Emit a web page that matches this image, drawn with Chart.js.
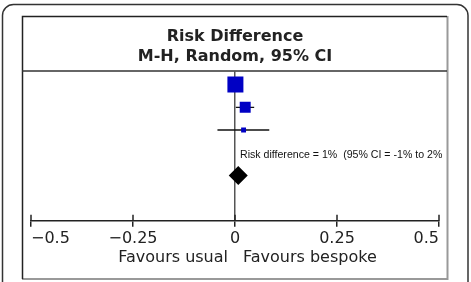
<!DOCTYPE html>
<html>
<head>
<meta charset="utf-8">
<script src="https://cdn.jsdelivr.net/npm/chart.js@4"></script>
<style>
  html, body { margin: 0; padding: 0; background: #fff; }
</style>
</head>
<body>
<canvas id="forest" width="471" height="282"></canvas>
<script>
// study rows (top to bottom), estimates and 95% CIs
const studyRows = [1, 2, 3];
const studyEst = [0.001, 0.025, 0.021];
const studyLow = [-0.008, 0.002, -0.043];
const studyHigh = [0.010, 0.047, 0.084];
const studyWeight = [64, 30, 6]; // % weight -> square area

// pooled estimate
const pooledRow = 5;
const pooledEst = 0.008;
const summaryRow = 4.1;
const summaryText = 'Risk difference = 1%  (95% CI = -1% to 2%';

const xTicks = [-0.5, -0.25, 0, 0.25, 0.5];
const titleLines = ['Risk Difference', 'M-H, Random, 95% CI'];
const sideLabels = ['Favours usual', 'Favours bespoke'];

const frame = {
    id: 'frame',
    beforeDraw(chart) {
        const c = chart.ctx;
        const top = chart.chartArea.top;
        c.save();
        // outer rounded box
        c.strokeStyle = '#333';
        c.lineWidth = 1.5;
        c.beginPath();
        c.roundRect(2.5, 4.5, 465.5, 300, 11);
        c.stroke();
        // inner box
        c.strokeStyle = '#999';
        c.lineWidth = 2;
        c.beginPath();
        c.moveTo(447.5, 16);
        c.lineTo(447.5, 279);
        c.lineTo(22, 279);
        c.stroke();
        c.strokeStyle = '#222';
        c.lineWidth = 1.5;
        c.beginPath();
        c.moveTo(22.5, 279);
        c.lineTo(22.5, 16.5);
        c.lineTo(447, 16.5);
        c.stroke();
        // line under the heading
        c.strokeStyle = '#333';
        c.beginPath();
        c.moveTo(22, top);
        c.lineTo(447, top);
        c.stroke();
        c.restore();
    },
    afterDatasetsDraw(chart) {
        const c = chart.ctx;
        const xs = chart.scales.x;
        const ys = chart.scales.y;
        const bottom = chart.chartArea.bottom;
        const zero = xs.getPixelForValue(0);
        c.save();
        // upper half of the axis ticks
        c.strokeStyle = '#222';
        c.lineWidth = 1.5;
        xs.ticks.forEach((t, i) => {
            const px = xs.getPixelForTick(i);
            c.beginPath();
            c.moveTo(px, bottom - 6);
            c.lineTo(px, bottom);
            c.stroke();
        });
        c.fillStyle = '#111';
        c.font = '10.6px "Liberation Sans", Arial, sans-serif';
        c.textBaseline = 'middle';
        c.textAlign = 'left';
        c.fillText(summaryText, zero + 5, ys.getPixelForValue(summaryRow));
        // favours labels either side of zero
        c.fillStyle = '#222';
        c.font = '16px "DejaVu Sans"';
        c.textAlign = 'right';
        c.fillText(sideLabels[0], zero - 7, bottom + 37);
        c.textAlign = 'left';
        c.fillText(sideLabels[1], zero + 8, bottom + 37);
        c.restore();
    }
};

const ciSets = studyRows.map((r, i) => ({
    type: 'scatter',
    showLine: true,
    data: [{ x: studyLow[i], y: r }, { x: studyHigh[i], y: r }],
    borderColor: '#111',
    borderWidth: 1.3,
    pointRadius: 0
}));

new Chart(document.getElementById('forest'), {
    type: 'scatter',
    data: {
        datasets: [
            {
                data: [{ x: pooledEst, y: pooledRow }],
                pointStyle: 'rectRot',
                pointRadius: 9.5,
                backgroundColor: '#000',
                borderWidth: 0
            },
            {
                data: studyRows.map((r, i) => ({ x: studyEst[i], y: r })),
                pointStyle: 'rect',
                pointRadius: studyWeight.map(w => Math.SQRT2 * Math.sqrt(w)),
                backgroundColor: '#0000c4',
                borderWidth: 0
            },
            ...ciSets
        ]
    },
    options: {
        responsive: false,
        animation: false,
        events: [],
        layout: { padding: { left: 31, right: 32, top: 0, bottom: 32 } },
        plugins: {
            legend: { display: false },
            tooltip: { enabled: false },
            title: {
                display: true,
                text: titleLines,
                color: '#222',
                font: { family: 'DejaVu Sans', size: 16, weight: 'bold', lineHeight: 1.25 },
                padding: { top: 27, bottom: 4 }
            }
        },
        scales: {
            x: {
                type: 'linear',
                min: -0.5,
                max: 0.5,
                afterBuildTicks: s => { s.ticks = xTicks.map(v => ({ value: v })); },
                ticks: {
                    color: '#222',
                    padding: 2,
                    maxRotation: 0,
                    align: 'inner',
                    font: { family: 'DejaVu Sans', size: 16 },
                    callback: v => (v < 0 ? '\u2212' + Math.abs(v) : String(v))
                },
                grid: {
                    drawOnChartArea: true,
                    color: c => (c.tick && c.tick.value === 0 ? '#555' : 'rgba(0,0,0,0)'),
                    lineWidth: 1.5,
                    tickColor: '#222',
                    tickLength: 6
                },
                border: { color: '#222', width: 1.5 }
            },
            y: {
                type: 'linear',
                display: false,
                reverse: true,
                min: 0.4,
                max: 7
            }
        }
    },
    plugins: [frame]
});
</script>
</body>
</html>
